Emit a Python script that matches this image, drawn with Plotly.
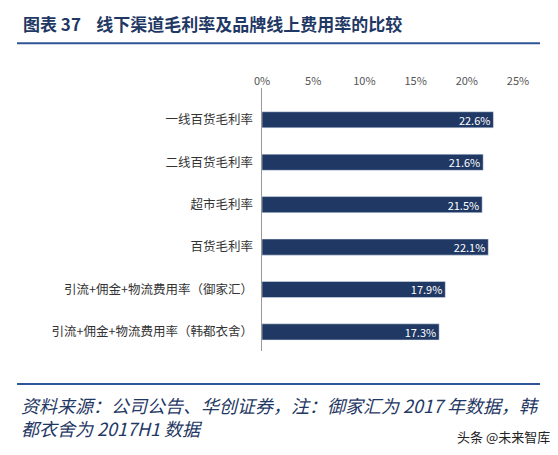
import plotly.graph_objects as go

categories = ["一线百货毛利率", "二线百货毛利率", "超市毛利率", "百货毛利率",
              "引流+佣金+物流费用率（御家汇）", "引流+佣金+物流费用率（韩都衣舍）"]
values = [22.6, 21.6, 21.5, 22.1, 17.9, 17.3]
tick_vals = [0, 5, 10, 15, 20, 25]
tick_text = ["0%", "5%", "10%", "15%", "20%", "25%"]

navy = "#1F3864"
fig = go.Figure(go.Bar(
    x=values, y=categories, orientation="h", marker_color=navy, width=0.38,
    text=[f"{v}%" for v in values], textposition="inside", insidetextanchor="end",
    constraintext="none", cliponaxis=False,
    textfont=dict(color="white", size=11, family="Noto Sans CJK SC"),
))
fig.update_layout(
    width=558, height=455, paper_bgcolor="white", plot_bgcolor="white",
    margin=dict(l=254, r=48, t=80, b=112), showlegend=False,
    font=dict(family="Noto Sans CJK SC", color="#333", size=11),
    xaxis=dict(side="top", range=[0, 25], tickvals=tick_vals, ticktext=tick_text,
               showgrid=False, zeroline=False, tickfont=dict(color="#555", size=11), ticks=""),
    yaxis=dict(range=[5.45, -0.75], showline=True, linecolor="#999", ticks="",
               ticksuffix="  ", tickfont=dict(size=12.5, color="#333")),
    shapes=[
        dict(type="line", xref="paper", yref="paper", x0=-0.957, x1=1.086, y0=1.17, y1=1.17,
             line=dict(color="#2E5597", width=2)),
        dict(type="line", xref="paper", yref="paper", x0=-0.957, x1=1.086, y0=-0.125, y1=-0.125,
             line=dict(color="#2E5597", width=2)),
    ],
    annotations=[
        dict(text="<b>图表 37    线下渠道毛利率及品牌线上费用率的比较</b>", xref="paper", yref="paper",
             x=-0.94, y=1.245, xanchor="left", yanchor="middle", showarrow=False,
             font=dict(size=17, color="#1F3864", family="Noto Sans CJK SC")),
        dict(text="<i>资料来源：公司公告、华创证券，注：御家汇为 2017 年数据，韩</i><br><i>都衣舍为 2017H1 数据</i>",
             xref="paper", yref="paper", x=-0.95, y=-0.15, xanchor="left", yanchor="top",
             align="left", showarrow=False,
             font=dict(size=18, color="#1F3864", family="Noto Sans CJK SC")),
        dict(text="头条 @未来智库", xref="paper", yref="paper", x=1.133, y=-0.325,
             xanchor="right", yanchor="middle", showarrow=False,
             font=dict(size=13, color="#222", family="Noto Sans CJK SC")),
    ],
)
fig.write_html("out.html")
